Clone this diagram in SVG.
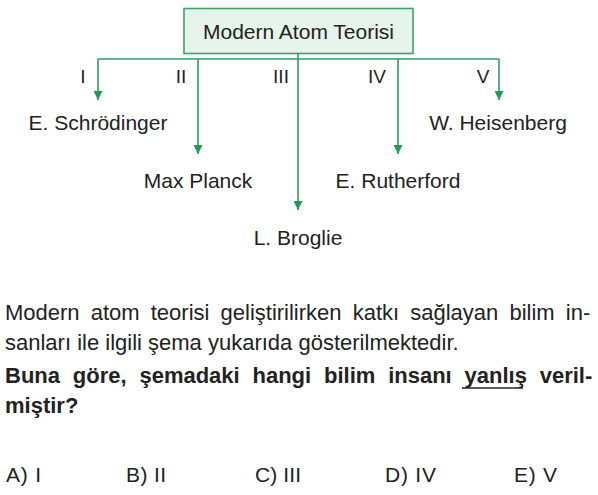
<svg xmlns="http://www.w3.org/2000/svg" width="598" height="495" viewBox="0 0 598 495">
<defs>
<marker id="ah" viewBox="0 0 10 10" refX="10" refY="5" markerWidth="9" markerHeight="9" markerUnits="userSpaceOnUse" orient="auto"><path d="M0,0 L10,5 L0,10 z" fill="#1f9a57"/></marker>
<style>
text{font-family:"Liberation Sans",Arial,sans-serif;fill:#222}
.num{font-size:19px}
.lbl{font-size:21px}
.con{fill:none;stroke:#2e9e62;stroke-width:1.6}
.p{font-size:22px}
.b{font-weight:bold}
.ans{font-size:21px}
</style>
</defs>
<rect width="598" height="495" fill="#fff"/>
<g id="root">
<rect x="184" y="8.5" width="229" height="45" fill="#e7f4eb" stroke="#3aa56c" stroke-width="1.6"/>
<text class="lbl" x="298.5" y="38.5" text-anchor="middle">Modern Atom Teorisi</text>
</g>
<g id="connectors">
<path class="con" d="M298,53.5 V59 M98,59 H499"/>
<path class="con" d="M98,59 V100" marker-end="url(#ah)"/>
<path class="con" d="M198,59 V154" marker-end="url(#ah)"/>
<path class="con" d="M298,59 V210" marker-end="url(#ah)"/>
<path class="con" d="M398,59 V154" marker-end="url(#ah)"/>
<path class="con" d="M499,59 V100" marker-end="url(#ah)"/>
<text class="num" x="83" y="83" text-anchor="middle">I</text>
<text class="num" x="181" y="83" text-anchor="middle">II</text>
<text class="num" x="281" y="83" text-anchor="middle">III</text>
<text class="num" x="377" y="83" text-anchor="middle">IV</text>
<text class="num" x="483" y="83" text-anchor="middle">V</text>
</g>
<g id="n1"><text class="lbl" x="98" y="130" text-anchor="middle">E. Schrödinger</text></g>
<g id="n2"><text class="lbl" x="198" y="188" text-anchor="middle">Max Planck</text></g>
<g id="n3"><text class="lbl" x="298" y="245" text-anchor="middle">L. Broglie</text></g>
<g id="n4"><text class="lbl" x="398" y="188" text-anchor="middle">E. Rutherford</text></g>
<g id="n5"><text class="lbl" x="498" y="130" text-anchor="middle">W. Heisenberg</text></g>
<g id="question">
<text class="p" x="5" y="320" word-spacing="5">Modern atom teorisi geliştirilirken katkı sağlayan bilim in-</text>
<text class="p" x="5" y="350">sanları ile ilgili şema yukarıda gösterilmektedir.</text>
<text class="p b" x="5" y="383" word-spacing="6.7">Buna göre, şemadaki hangi bilim insanı yanlış veril-</text>
<line x1="462" y1="388" x2="523" y2="388" stroke="#222" stroke-width="1.6"/>
<text class="p b" x="5" y="413">miştir?</text>
</g>
<g id="answers">
<text class="ans" x="6" y="482" textLength="35" lengthAdjust="spacing">A) I</text>
<text class="ans" x="126" y="482" textLength="40" lengthAdjust="spacing">B) II</text>
<text class="ans" x="255" y="482" textLength="46" lengthAdjust="spacing">C) III</text>
<text class="ans" x="385" y="482" textLength="51" lengthAdjust="spacing">D) IV</text>
<text class="ans" x="514" y="482" textLength="43" lengthAdjust="spacing">E) V</text>
</g>
</svg>
